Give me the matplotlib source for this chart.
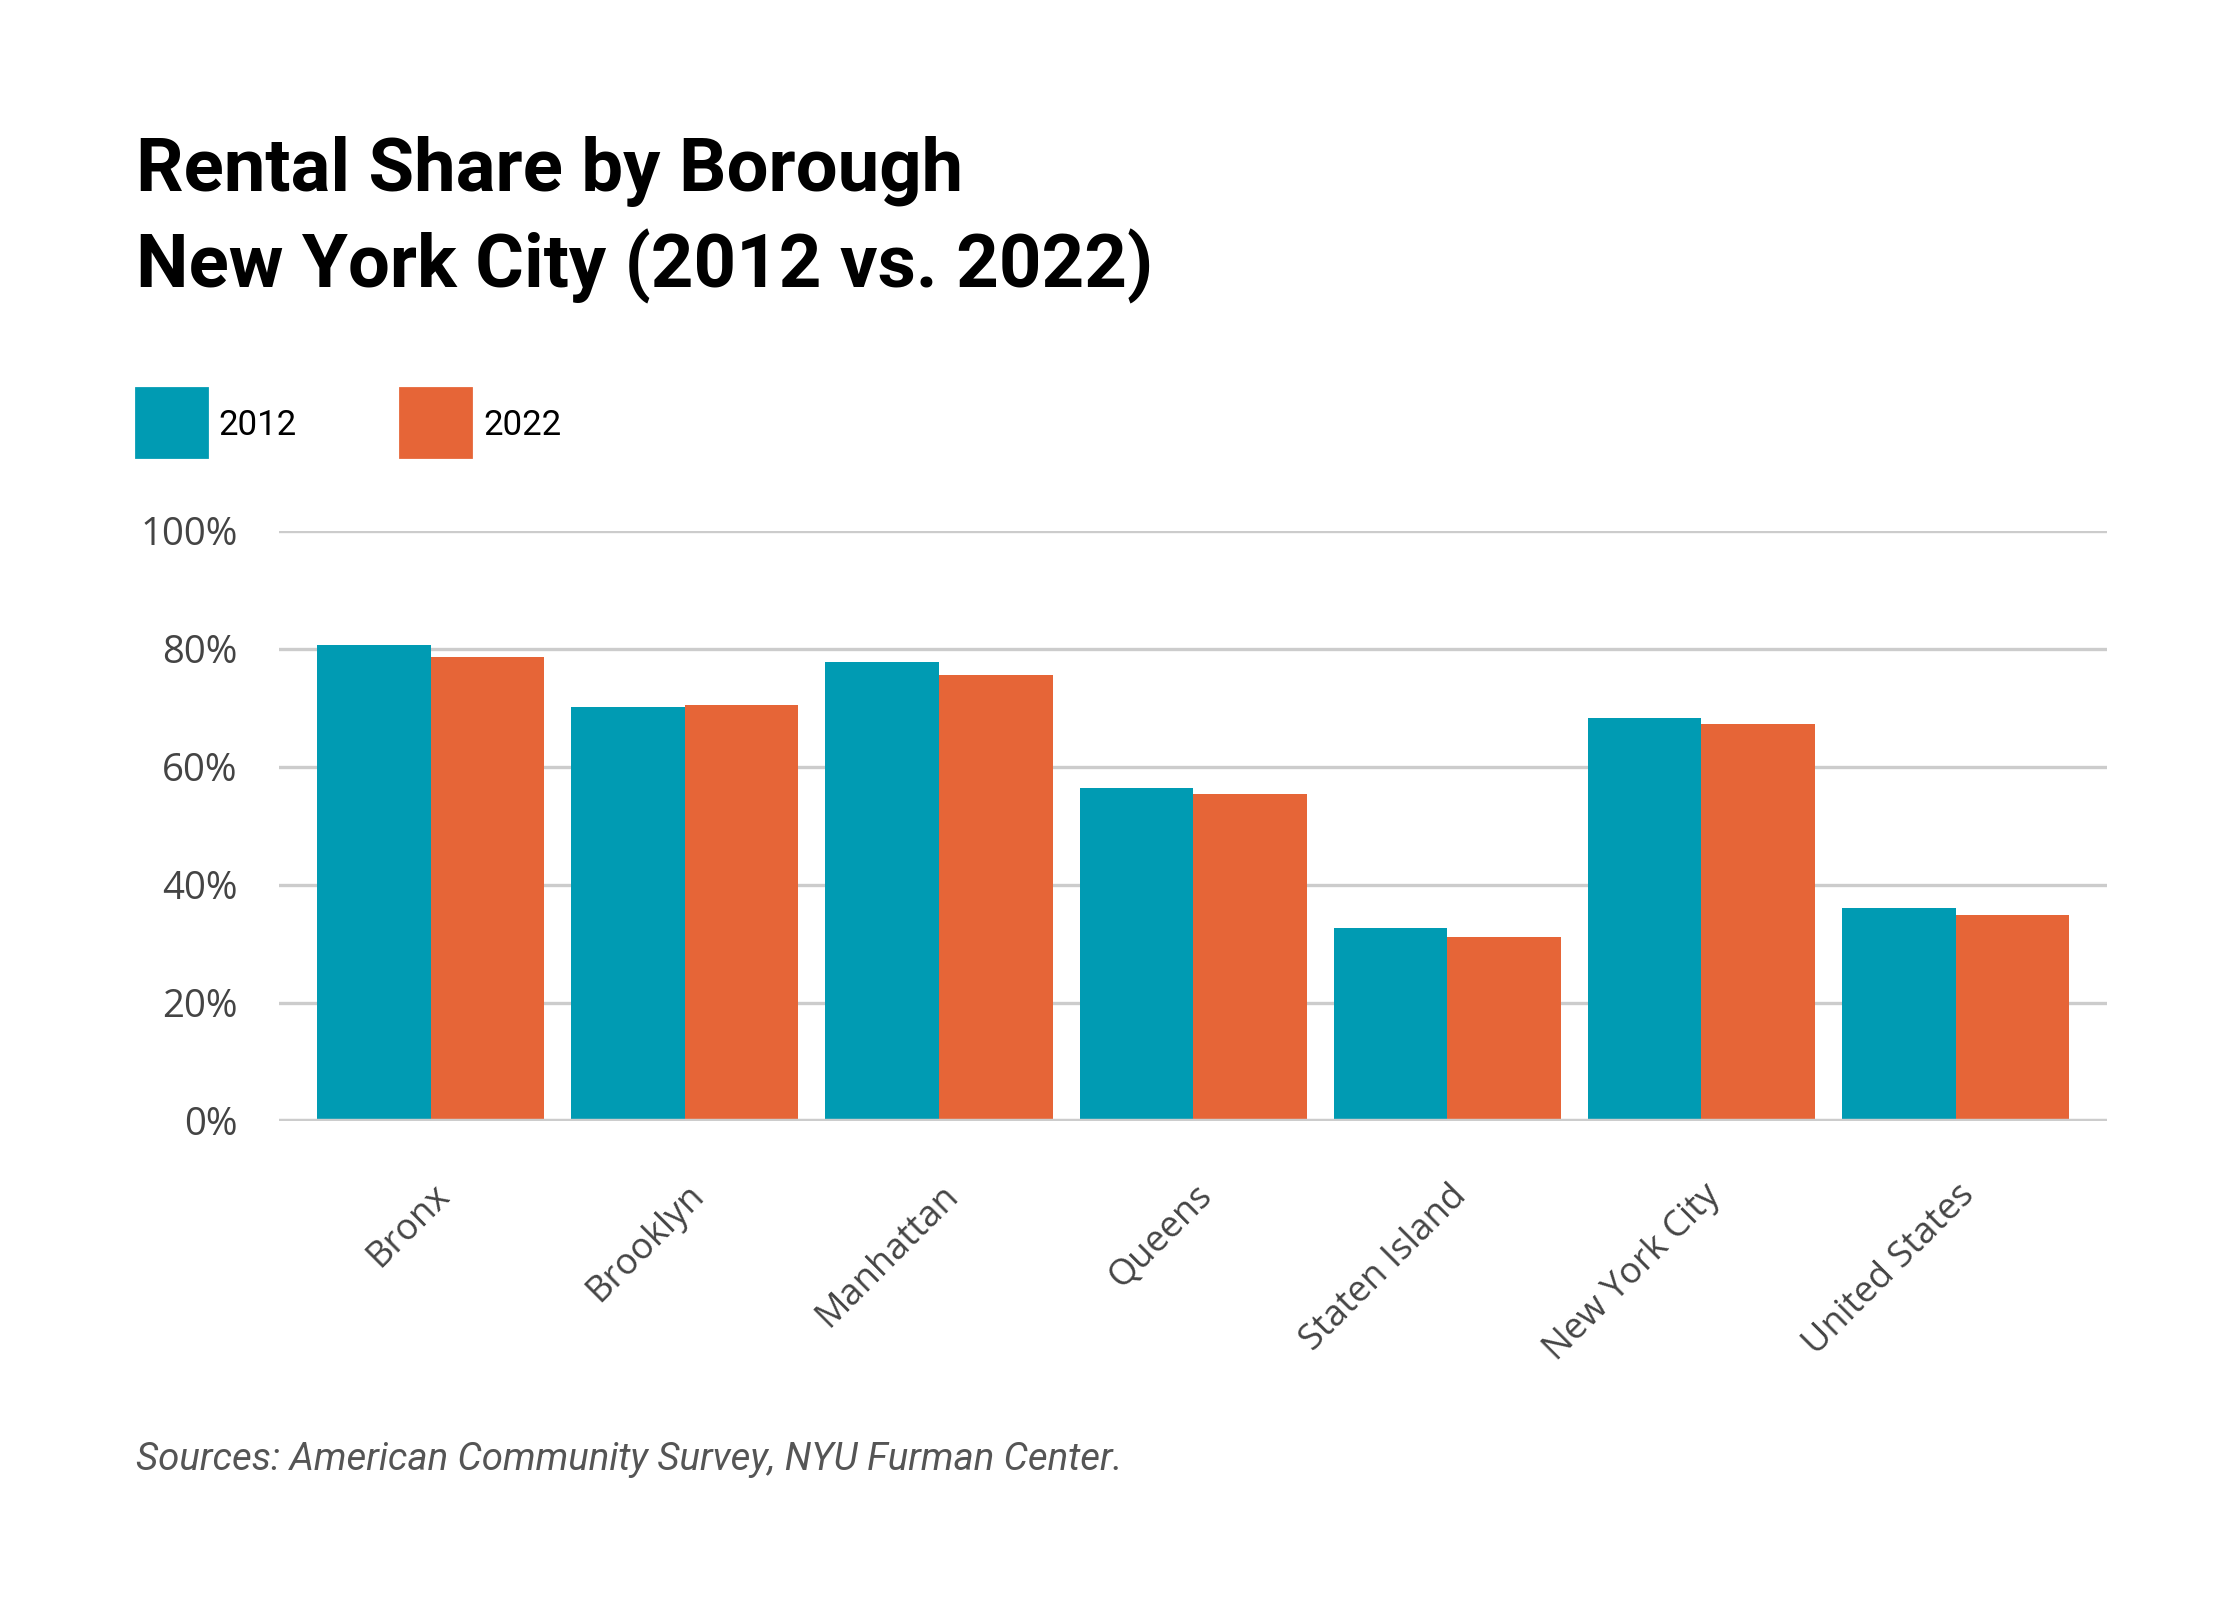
import matplotlib
matplotlib.use("Agg")
import matplotlib.pyplot as plt
from matplotlib.patches import Rectangle
import numpy as np

# data
places = ["Bronx", "Brooklyn", "Manhattan", "Queens", "Staten Island",
          "New York City", "United States"]
share_2012 = [80.6, 70.2, 77.7, 56.4, 32.7, 68.3, 36.1]
share_2022 = [78.7, 70.5, 75.5, 55.4, 31.2, 67.3, 34.9]
years = ["2012", "2022"]
yticks = [0, 20, 40, 60, 80, 100]

teal = "#009BB3"
orange = "#E66537"
narrow = ["Roboto", "DejaVu Sans"]
body = ["Open Sans", "DejaVu Sans"]

fig = plt.figure(figsize=(11.2, 8), dpi=200)
ax = fig.add_axes([0.1246, 0.2994, 0.8161, 0.3688])

x = np.arange(len(places))
w = 0.447
ax.bar(x - w / 2, share_2012, w, color=teal, zorder=3)
ax.bar(x + w / 2, share_2022, w, color=orange, zorder=3)

ax.set_xlim(-0.596, len(places) - 0.404)
ax.set_ylim(0, 100)
ax.set_yticks(yticks)
ax.set_yticklabels([f"{t}%" for t in yticks], family=body, fontsize=13.8, color="#444444")
# labels sit a little right of the group centre
ax.set_xticks(x + 0.055)
ax.set_xticklabels(places, rotation=45, ha="right", va="center",
                   rotation_mode="anchor", family=body, fontsize=13, color="#444444")
ax.tick_params(axis="both", length=0)
ax.tick_params(axis="y", pad=15)
ax.tick_params(axis="x", pad=25)
ax.grid(axis="y", color="#cccccc", linewidth=1.2, zorder=0)
for s in ax.spines.values():
    s.set_visible(False)
ax.axhline(0, color="#cccccc", linewidth=1.6, zorder=4)

fig.text(0.0607, 0.8806, "Rental Share by Borough", family=narrow, weight="bold",
         fontsize=26.8, va="baseline", ha="left")
fig.text(0.0607, 0.8206, "New York City (2012 vs. 2022)", family=narrow, weight="bold",
         fontsize=26.8, va="baseline", ha="left")

# legend: coloured squares with labels
for sx, tx, col, lab in [(0.0607, 0.0973, teal, years[0]),
                         (0.1786, 0.2156, orange, years[1])]:
    fig.patches.append(Rectangle((sx, 1 - 457 / 1600), 71 / 2240, 69 / 1600,
                                 transform=fig.transFigure, color=col))
    fig.text(tx, 0.728, lab, family=narrow, fontsize=12.5, va="baseline", ha="left")

fig.text(0.0607, 0.081, "Sources: American Community Survey, NYU Furman Center.",
         family=narrow, style="italic", fontsize=13.8, color="#555555",
         va="baseline", ha="left")

fig.savefig("out.png", dpi=200, facecolor="white")
